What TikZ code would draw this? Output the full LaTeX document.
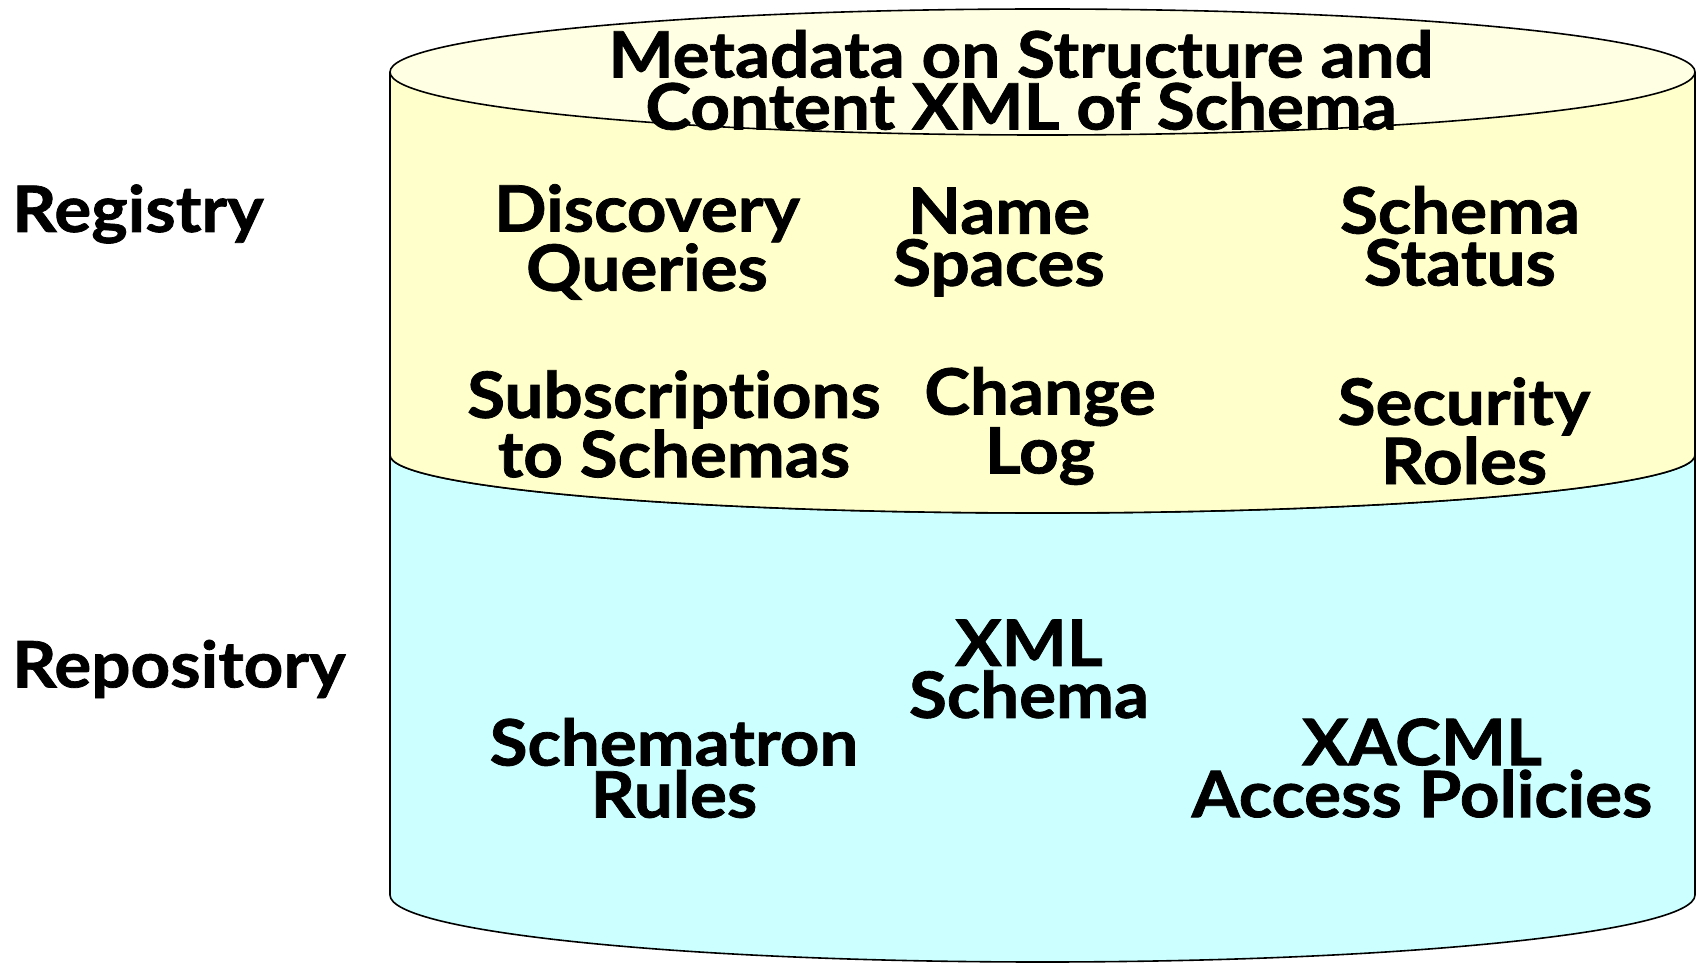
\documentclass[tikz,border=0pt]{standalone}
\usepackage{fontspec}
\setmainfont{Lato}[UprightFont=* Bold, FakeStretch=1.08, FakeBold=1.2, Ligatures=NoCommon]
\definecolor{topfill}{HTML}{FFFFE3}
\definecolor{regfill}{HTML}{FFFFCC}
\definecolor{repfill}{HTML}{CCFFFF}
\begin{document}
\begin{tikzpicture}[x=1pt,y=1pt,
  lbl/.style={inner sep=0pt, align=center, font=\fontsize{64}{52}\selectfont},
  side/.style={inner sep=0pt, anchor=west, font=\fontsize{64}{52}\selectfont},
  outline/.style={draw=black, line width=1.6pt}]
\useasboundingbox (0,0) rectangle (1698,-965);
% repository part
\path[fill=repfill, outline] (390,-455) -- (390,-895) arc[start angle=180, end angle=360, x radius=652.5, y radius=67] -- (1695,-455) arc[start angle=0, end angle=-180, x radius=652.5, y radius=58] -- cycle;
% registry part
\path[fill=regfill, outline] (390,-73) -- (390,-455) arc[start angle=180, end angle=360, x radius=652.5, y radius=58] -- (1695,-73) -- cycle;
% top ellipse
\path[fill=topfill, outline] (1042.5,-72) ellipse[x radius=652.5, y radius=63];
% texts
\node[lbl] (title) at (1021,-80) {Metadata on Structure and\\Content XML of Schema};
\node[side] (registry) at (12,-214) {Registry};
\node[side] (repository) at (12,-669) {Repository};
\node[lbl] (discovery) at (647,-242) {Discovery\\Queries};
\node[lbl] (names) at (999,-242) {Name\\Spaces};
\node[lbl] (status) at (1460,-236) {Schema\\Status};
\node[lbl] (subs) at (674,-424) {Subscriptions\\to Schemas};
\node[lbl] (change) at (1040,-426) {Change\\Log};
\node[lbl] (security) at (1464,-431) {Security\\Roles};
\node[lbl] (xml) at (1029,-669) {XML\\Schema};
\node[lbl] (schematron) at (674,-768) {Schematron\\Rules};
\node[lbl] (xacml) at (1422,-768) {XACML\\Access Policies};
\end{tikzpicture}
\end{document}
